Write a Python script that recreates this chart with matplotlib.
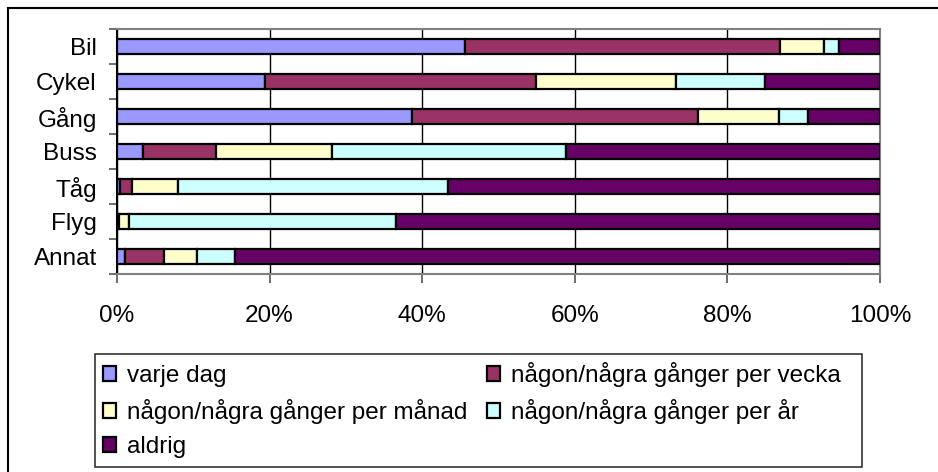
import matplotlib
matplotlib.use('Agg')
import matplotlib.pyplot as plt
from matplotlib.patches import Rectangle, Patch
from matplotlib.lines import Line2D
import numpy as np

plt.rcParams['font.family'] = ['Liberation Sans', 'DejaVu Sans']

categories = ['Bil', 'Cykel', 'Gång', 'Buss', 'Tåg', 'Flyg', 'Annat']
series_names = ['varje dag', 'någon/några gånger per vecka',
                'någon/några gånger per månad', 'någon/några gånger per år', 'aldrig']
varje_dag = [45.6, 19.4, 38.7, 3.4, 0.4, 0.0, 1.0]
per_vecka = [41.3, 35.5, 37.4, 9.6, 1.6, 0.3, 5.1]
per_manad = [5.8, 18.4, 10.7, 15.2, 6.0, 1.3, 4.4]
per_ar = [1.9, 11.6, 3.8, 30.6, 35.4, 35.0, 5.0]
aldrig = [5.4, 15.1, 9.4, 41.2, 56.6, 63.4, 84.5]
colors = ['#9999FF', '#993366', '#FFFFCC', '#CCFFFF', '#660066']
xticks = [0, 20, 40, 60, 80, 100]
xtick_labels = ['0%', '20%', '40%', '60%', '80%', '100%']

W, H = 938, 472
FS = 17.5
fig = plt.figure(figsize=(W / 100, H / 100), dpi=100)

# outer chart border (left and top visible, others cropped)
fig.add_artist(Line2D([8 / W, 8 / W], [0, 1 - 8 / H], transform=fig.transFigure, color='black', lw=1.5))
fig.add_artist(Line2D([8 / W, 1], [1 - 8 / H, 1 - 8 / H], transform=fig.transFigure, color='black', lw=1.5))

ax = fig.add_axes([117 / W, 1 - 274 / H, 763 / W, 245 / H])
series = [varje_dag, per_vecka, per_manad, per_ar, aldrig]
y = np.arange(len(categories))
totals = np.sum(series, axis=0)
left = np.zeros(len(categories))
handles = []
for name, vals, c in zip(series_names, series, colors):
    v = np.array(vals) / totals * 100
    ax.barh(y, v, left=left, height=0.43, color=c, edgecolor='black', linewidth=1.6, zorder=3)
    left += v
    handles.append(Patch(facecolor=c, edgecolor='black', linewidth=1.6, label=name))

ax.set_xlim(0, 100)
ax.set_ylim(len(categories) - 0.5, -0.5)
ax.set_xticks(xticks)
ax.set_xticklabels(xtick_labels, fontsize=FS)
ax.set_yticks(y)
ax.set_yticklabels(categories, fontsize=FS)
ax.set_yticks(np.arange(-0.5, len(categories), 1.0), minor=True)
ax.tick_params(axis='y', which='major', length=0, pad=14.5)
ax.tick_params(axis='y', which='minor', length=6, width=1.2, color='#555555', direction='out')
ax.tick_params(axis='x', which='major', length=6.5, width=1.2, color='#555555', direction='out', pad=15.5)
ax.grid(axis='x', color='black', linewidth=1.0, zorder=0)
ax.set_axisbelow(True)
for s in ['top', 'right', 'bottom']:
    ax.spines[s].set_color('#808080')
    ax.spines[s].set_linewidth(1.5)
ax.spines['left'].set_color('black')
ax.spines['left'].set_linewidth(1.5)

# legend frame
fig.add_artist(Rectangle((95 / W, 1 - 467 / H), 767 / W, 113 / H, transform=fig.transFigure,
                         facecolor='white', edgecolor='#333333', lw=1.2, zorder=0))
order = [0, 2, 4, 1, 3]
leg = fig.legend([handles[i] for i in order], [series_names[i] for i in order],
                 loc='upper left', bbox_to_anchor=(103 / W, 1 - 362 / H), bbox_transform=fig.transFigure,
                 ncol=2, frameon=False, fontsize=FS, borderpad=0, borderaxespad=0,
                 handlelength=0.55, handleheight=0.55, handletextpad=0.45,
                 columnspacing=0.8, labelspacing=0.5)

fig.savefig('out.png', dpi=100)
